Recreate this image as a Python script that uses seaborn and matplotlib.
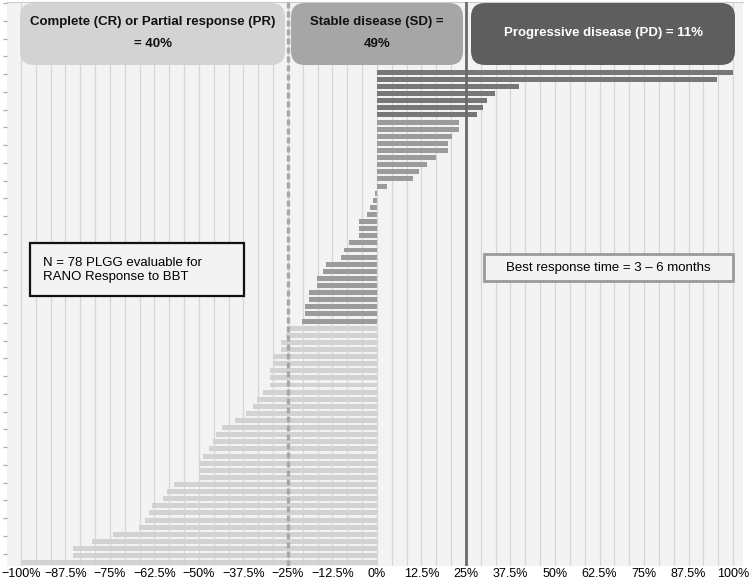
import numpy as np
import pandas as pd
import matplotlib.pyplot as plt
from matplotlib.patches import FancyBboxPatch, Rectangle
import seaborn as sns

# best % change in tumour size per patient, top (largest increase) to bottom
pd_sd_positive = [100, 95.4, 40, 33.1, 30.8, 29.9, 28.2, 23.1, 23.1, 21, 20, 20,
                  16.7, 14.1, 11.9, 10, 2.9]
sd_negative = [-0.6, -1.1, -1.9, -2.7, -5, -5, -5, -7.9, -9.2, -10.1, -14.2,
               -15.2, -16.9, -16.9, -19.1, -19.1, -20.2, -20.2, -21.0]
cr_pr = [-25, -25.6, -27, -27, -29.1, -29.1, -29.9, -29.9, -29.9, -32.1, -33.8,
         -34.7, -36.9, -39.9, -43.6, -45.2, -46, -47.1, -48.8, -49.9, -49.9,
         -49.9, -57, -59.1, -60, -63.3, -64, -65.2, -66.8, -74.1, -79.9, -85.5,
         -85.5, -100]

tick_values = [-100, -87.5, -75, -62.5, -50, -37.5, -25, -12.5, 0,
               12.5, 25, 37.5, 50, 62.5, 75, 87.5, 100]

values = pd_sd_positive + sd_negative + cr_pr
df = pd.DataFrame({"patient": [f"P{i+1:02d}" for i in range(len(values))],
                   "change": values})
df["response"] = np.where(df["change"] > 25, "PD",
                          np.where(df["change"] > -25, "SD", "PR"))
palette = {"PD": "#777777", "SD": "#9b9b9b", "PR": "#d2d2d2"}

W, H = 750, 583
fig = plt.figure(figsize=(W / 100, H / 100), dpi=100)
ax = fig.add_axes([7 / W, 1 - 566 / H, 736 / W, 564 / H])
ax.set_facecolor("#f3f3f3")

sns.barplot(data=df, x="change", y="patient", hue="response", palette=palette,
            order=df["patient"], dodge=False, width=0.7, orient="h",
            saturation=1, legend=False, ax=ax, zorder=2)

# vertical grid every 1/3 of a labelled step
ax.set_xticks(tick_values)
ax.set_xticklabels([f"{v:g}%".replace("-", "\u2212") for v in tick_values],
                   fontsize=9, family="Liberation Sans")
ax.set_xticks(np.arange(-100, 100.01, 100 / 24), minor=True)
ax.grid(which="both", axis="x", color="#d6d6d6", lw=0.9, zorder=0)
ax.set_axisbelow(True)
ax.tick_params(axis="x", which="both", length=0, pad=1.5)

ax.set_xlim(-103.9, 102.8)
ax.set_ylim(69.47, -9.9)
ax.set_yticks(np.arange(-9.75, 69.4, 2.5))
ax.set_yticklabels([])
ax.tick_params(axis="y", length=3, width=0.9, color="#aaaaaa")
ax.set_xlabel("")
ax.set_ylabel("")
for s in ["left", "right", "bottom"]:
    ax.spines[s].set_visible(False)
ax.spines["top"].set_color("#cccccc")

ax.axvline(-25, color="#a8a8a8", lw=2.4, ls=(0, (1.8, 0.9)), zorder=3)
ax.axvline(25, color="#6a6a6a", lw=2, zorder=3)


def px(x, y):
    return x / W, 1 - y / H


def header(x0, x1, color, text, tcolor):
    fx0, fy1 = px(x0, 3)
    fx1, fy0 = px(x1, 65)
    box = FancyBboxPatch((fx0, fy0), fx1 - fx0, fy1 - fy0,
                         boxstyle=f"round,pad=0,rounding_size={14 / W}",
                         mutation_aspect=W / H, transform=fig.transFigure,
                         facecolor=color, edgecolor="none", zorder=5)
    fig.patches.append(box)
    fig.text((fx0 + fx1) / 2, (fy0 + fy1) / 2 + 0.002, text, ha="center",
             va="center", fontsize=9.5, fontweight="bold", color=tcolor,
             linespacing=2.1, family="Liberation Sans", zorder=6)


header(20, 285, "#d3d3d3", "Complete (CR) or Partial response (PR)\n= 40%", "#111111")
header(291, 463, "#a6a6a6", "Stable disease (SD) =\n49%", "#111111")
header(471, 735, "#5e5e5e", "Progressive disease (PD) = 11%", "white")

# annotation boxes
x0, y1 = px(30, 243)
x1, y0 = px(244, 296)
fig.patches.append(Rectangle((x0, y0), x1 - x0, y1 - y0, transform=fig.transFigure,
                             facecolor="#f3f3f3", edgecolor="#111111", lw=1.6, zorder=5))
fig.text(*px(43, 270), "N = 78 PLGG evaluable for\nRANO Response to BBT",
         ha="left", va="center", fontsize=9.5, family="Liberation Sans",
         linespacing=1.3, zorder=6)

x0, y1 = px(484, 254)
x1, y0 = px(733, 281)
fig.patches.append(Rectangle((x0, y0), x1 - x0, y1 - y0, transform=fig.transFigure,
                             facecolor="#f3f3f3", edgecolor="#9a9a9a", lw=2, zorder=5))
fig.text(*px(608, 268), "Best response time = 3 \u2013 6 months", ha="center",
         va="center", fontsize=9.5, family="Liberation Sans", zorder=6)

fig.savefig("out.png", dpi=100, facecolor="white")
